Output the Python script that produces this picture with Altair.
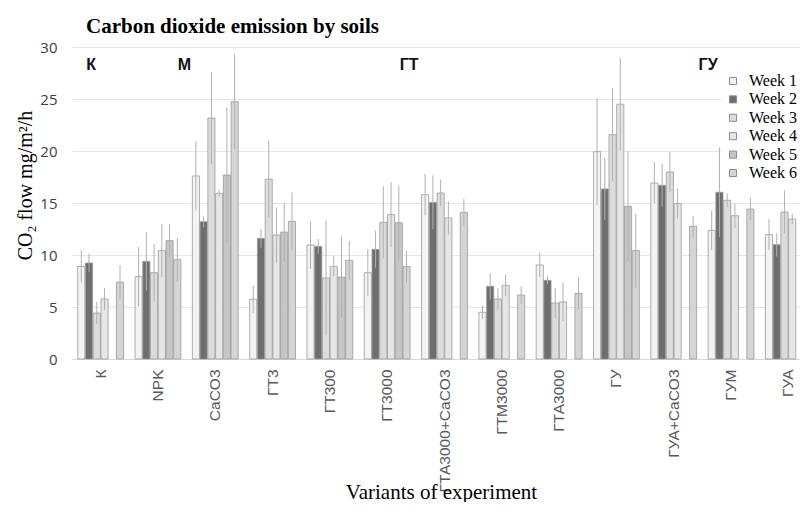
import altair as alt
import pandas as pd

categories = ["К", "NPK", "CaCO3", "ГТ3", "ГТ300", "ГТ3000", "ГТА3000+CaCO3",
              "ГТМ3000", "ГТА3000", "ГУ", "ГУА+CaCO3", "ГУМ", "ГУА"]
weeks = ["Week 1", "Week 2", "Week 3", "Week 4", "Week 5", "Week 6"]

week1 = [8.9, 7.92, 17.6, 5.74, 10.96, 8.3, 15.8, 4.49, 9.04, 19.94, 16.92, 12.37, 11.96]
week2 = [9.23, 9.39, 13.2, 11.6, 10.83, 10.54, 15.06, 6.99, 7.56, 16.35, 16.7, 16.03, 10.99]
week3 = [4.42, 8.3, 23.17, 17.3, 7.79, 13.14, 15.96, 5.77, 5.38, 21.57, 17.98, 15.26, 14.13]
week4 = [5.77, 10.42, 15.93, 11.92, 8.91, 13.88, 13.56, 7.08, 5.48, 24.5, 14.94, 13.78, 13.46]
week5 = [None, 11.38, 17.69, 12.2, 7.88, 13.1, None, None, None, 14.68, None, None, None]
week6 = [7.4, 9.55, 24.74, 13.24, 9.49, 8.88, 14.1, 6.15, 6.31, 10.42, 12.76, 14.42, 9.62]

err1 = [1.55, 2.85, 3.33, 1.31, 2.28, 2.28, 1.99, 0.67, 1.15, 5.16, 1.99, 1.89, 1.5]
err2 = [0.87, 2.79, 0.52, 0.9, 0.71, 1.8, 2.57, 1.28, 0.39, 2.98, 2.05, 4.32, 1.13]
err3 = [1.06, 2.76, 4.43, 3.7, 5.51, 3.46, 1.28, 1.02, 1.45, 4.49, 1.89, 0.64, 2.09]
err4 = [1.06, 2.56, 0.3, 2.66, 0.96, 3.11, 1.6, 1.03, 1.83, 4.44, 1.44, 1.16, 0.51]
err5 = [None, 1.6, 6.51, 2.8, 3.92, 3.57, None, None, None, 5.29, None, None, None]
err6 = [1.64, 2.08, 4.59, 2.79, 1.89, 1.54, 1.28, 0.84, 1.54, 3.55, 1.02, 1.06, 1.76]

group_labels = ["К", "М", "ГТ", "ГУ"]
group_anchor = ["К", "CaCO3", "ГТ3000", "ГУМ"]
group_pos = [0.29, 0.0, 0.98, 0.0]
group_dx = [0, -8, 0, 0]
group_y = 28.3

fills = ["#f3f3f3", "#6e6e6e", "#dcdcdc", "#e6e6e6", "#c6c6c6", "#d5d5d5"]

SERIF = "Liberation Serif, Times New Roman, serif"

rows = []
for w, vals, errs in zip(weeks, [week1, week2, week3, week4, week5, week6],
                         [err1, err2, err3, err4, err5, err6]):
    for c, v, e in zip(categories, vals, errs):
        if v is None:
            continue
        rows.append({"variant": c, "week": w, "flow": v, "lo": v - e, "hi": v + e})
df = pd.DataFrame(rows)

x_scale = alt.Scale(domain=categories, range=[0, 745], paddingInner=0.2, paddingOuter=0.1)
y_scale = alt.Scale(domain=[0, 30], nice=False)

x_axis = alt.Axis(
    title="Variants of experiment", labelAngle=270, labelPadding=10, ticks=False, tickSize=0,
    labelFont="Liberation Sans", labelFontSize=15.5, labelColor="#595959",
    domainColor="#d9d9d9", grid=False,
    titleFont=SERIF, titleFontSize=21, titleFontWeight="normal", titleColor="black",
    titleX=369, titleY=139, titleAlign="center", titleBaseline="alphabetic",
)
y_axis = alt.Axis(
    title="CO₂ flow mg/m²/h", values=[0, 5, 10, 15, 20, 25, 30], ticks=False, tickSize=0,
    domain=False, labelPadding=15, labelFont="Open Sans", labelFontSize=15, labelColor="#404040",
    gridColor="#e6e6e6", grid=True,
    titleFont=SERIF, titleFontSize=20, titleFontWeight="normal", titleColor="black",
    titleX=-47, titleY=138, titleAngle=270, titleAlign="center", titleBaseline="middle",
)

xoff = alt.XOffset("week:N", scale=alt.Scale(domain=weeks, paddingInner=0.08))

bars = alt.Chart(df).mark_bar(stroke="#9a9a9a", strokeWidth=0.8).encode(
    x=alt.X("variant:N", scale=x_scale, axis=x_axis, sort=categories),
    xOffset=xoff,
    y=alt.Y("flow:Q", scale=y_scale, axis=y_axis),
    color=alt.Color("week:N", scale=alt.Scale(domain=weeks, range=fills),
                    legend=alt.Legend(title=None, orient="none", legendX=649, legendY=22,
                                      symbolType="square", symbolSize=50,
                                      symbolStrokeColor="#8c8c8c", symbolStrokeWidth=1,
                                      labelFont=SERIF, labelFontSize=16,
                                      labelColor="black", labelOffset=8, rowPadding=2.4,
                                      padding=4, fillColor="white")),
)

errs = alt.Chart(df).mark_rule(color="#b0b0b0", strokeWidth=1).encode(
    x=alt.X("variant:N", scale=x_scale, axis=x_axis, sort=categories),
    xOffset=xoff,
    y=alt.Y("lo:Q", scale=y_scale, axis=y_axis),
    y2="hi:Q",
)

layers = [bars, errs]
for lab, anc, pos, ddx in zip(group_labels, group_anchor, group_pos, group_dx):
    gdf = pd.DataFrame({"variant": [anc], "label": [lab], "yv": [group_y]})
    layers.append(
        alt.Chart(gdf).mark_text(font="Liberation Sans", fontSize=16, fontWeight="bold",
                                 color="#111111", baseline="middle", align="center", dx=ddx).encode(
            x=alt.X("variant:N", scale=x_scale, axis=x_axis, sort=categories, bandPosition=pos),
            y=alt.Y("yv:Q", scale=y_scale, axis=y_axis),
            text="label:N",
        )
    )

chart = alt.layer(*layers).properties(
    width=728, height=312,
    autosize=alt.AutoSizeParams(type="none"),
    padding={"left": 64, "top": 39, "right": 0, "bottom": 143},
    title=alt.Title("Carbon dioxide emission by soils", anchor="start", frame="group", dx=14,
                    offset=-14, font=SERIF, fontSize=21, fontWeight="bold",
                    color="black", baseline="alphabetic"),
    background="white",
).configure_view(stroke=None).configure_legend(labelFont=SERIF)

chart.save("out.html", embed_options={"renderer": "svg", "actions": False})
